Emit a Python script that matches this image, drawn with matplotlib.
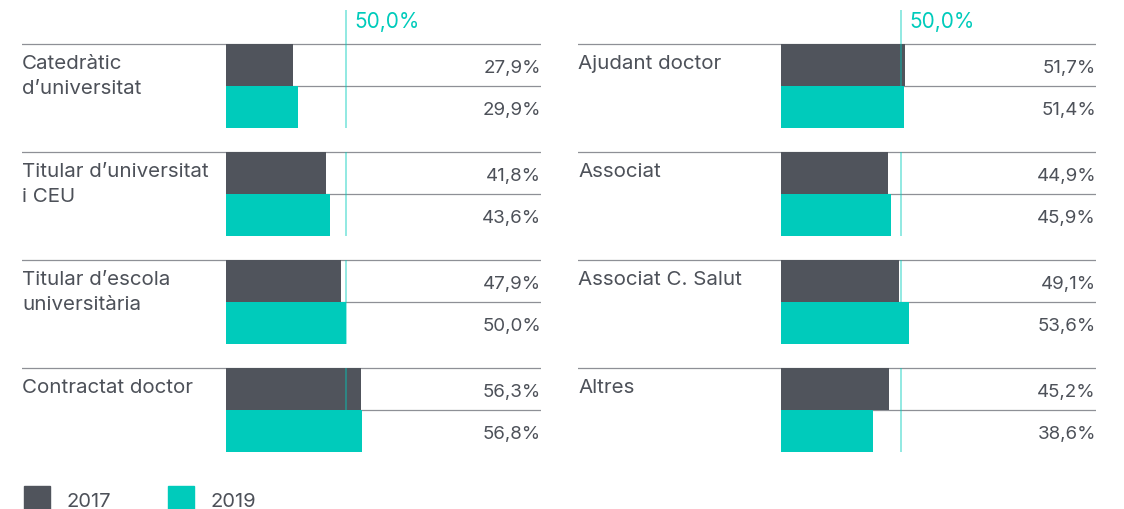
import matplotlib
matplotlib.use("Agg")
import matplotlib.pyplot as plt
from matplotlib.patches import Rectangle

# data
left_labels = ["Catedràtic\nd’universitat", "Titular d’universitat\ni CEU",
               "Titular d’escola\nuniversitària", "Contractat doctor"]
left_2017 = [27.9, 41.8, 47.9, 56.3]
left_2019 = [29.9, 43.6, 50.0, 56.8]

right_labels = ["Ajudant doctor", "Associat", "Associat C. Salut", "Altres"]
right_2017 = [51.7, 44.9, 49.1, 45.2]
right_2019 = [51.4, 45.9, 53.6, 38.6]

reference = 50.0
years = ["2017", "2019"]

DARK = "#50545c"
TEAL = "#00cbbb"
TEXT = "#4d5159"
GRID = "#8e9096"

plt.rcParams['font.family'] = ['Inter', 'DejaVu Sans']

W, H = 1124, 509
fig = plt.figure(figsize=(W / 100, H / 100), dpi=100)

gap = 24 / 42          # space between groups, in bar heights
step = 2 + gap
y_top = -34 / 42       # reference line starts above the first group
y_bottom = 4 * step - gap
px_per_pct = 2.394


def fmt(v):
    return f"{v:.1f}".replace(".", ",") + "%"


def panel(x0, x_bar, x1, labels, v17, v19):
    # x0, x_bar, x1 in figure pixels: left edge, bar origin, right edge
    ax = fig.add_axes([x0 / W, (H - 452) / H, (x1 - x0) / W, (452 - 10) / H])
    xmin, xmax = -(x_bar - x0) / px_per_pct, (x1 - x_bar) / px_per_pct
    ax.set_xlim(xmin, xmax)
    ax.set_ylim(y_bottom, y_top)
    ax.axis("off")

    for g, (lab, a, b) in enumerate(zip(labels, v17, v19)):
        top = g * step
        ax.axhline(top, color=GRID, lw=0.9, zorder=0)
        ax.hlines(top + 1, 0, xmax, color=GRID, lw=0.9, zorder=0)
        ax.barh(top + 0.5, a, height=1.0, color=DARK, zorder=2)
        ax.barh(top + 1.5, b, height=1.0, color=TEAL, zorder=2)
        line_start = y_top if g == 0 else top
        ax.vlines(reference, line_start, top + 2, color=TEAL, alpha=0.5,
                  lw=1.2, zorder=3)
        for i, line in enumerate(lab.split("\n")):
            ax.text(xmin, top + (25 + 25 * i) / 42, line, color=TEXT,
                    fontsize=14.8, va="baseline", ha="left")
        ax.text(xmax, top + 29 / 42, fmt(a), color=TEXT, fontsize=13.5,
                va="baseline", ha="right")
        ax.text(xmax, top + 1 + 29 / 42, fmt(b), color=TEXT, fontsize=13.5,
                va="baseline", ha="right")

    ax.text(reference + 3.5, -16 / 42, fmt(reference),
            color=TEAL, fontsize=15, va="baseline", ha="left")
    return ax


panel(22, 226, 541, left_labels, left_2017, left_2019)
panel(578, 781, 1096, right_labels, right_2017, right_2019)

# legend
for i, (yr, col) in enumerate(zip(years, [DARK, TEAL])):
    x = 24 + i * 144
    fig.add_artist(Rectangle((x / W, -1 / H), 26 / W, 24 / H, color=col,
                             transform=fig.transFigure))
    fig.text((x + 42) / W, (H - 507) / H, yr, color=TEXT, fontsize=14.5,
             va="baseline", ha="left")

fig.savefig("out.png", dpi=100, facecolor="white")
